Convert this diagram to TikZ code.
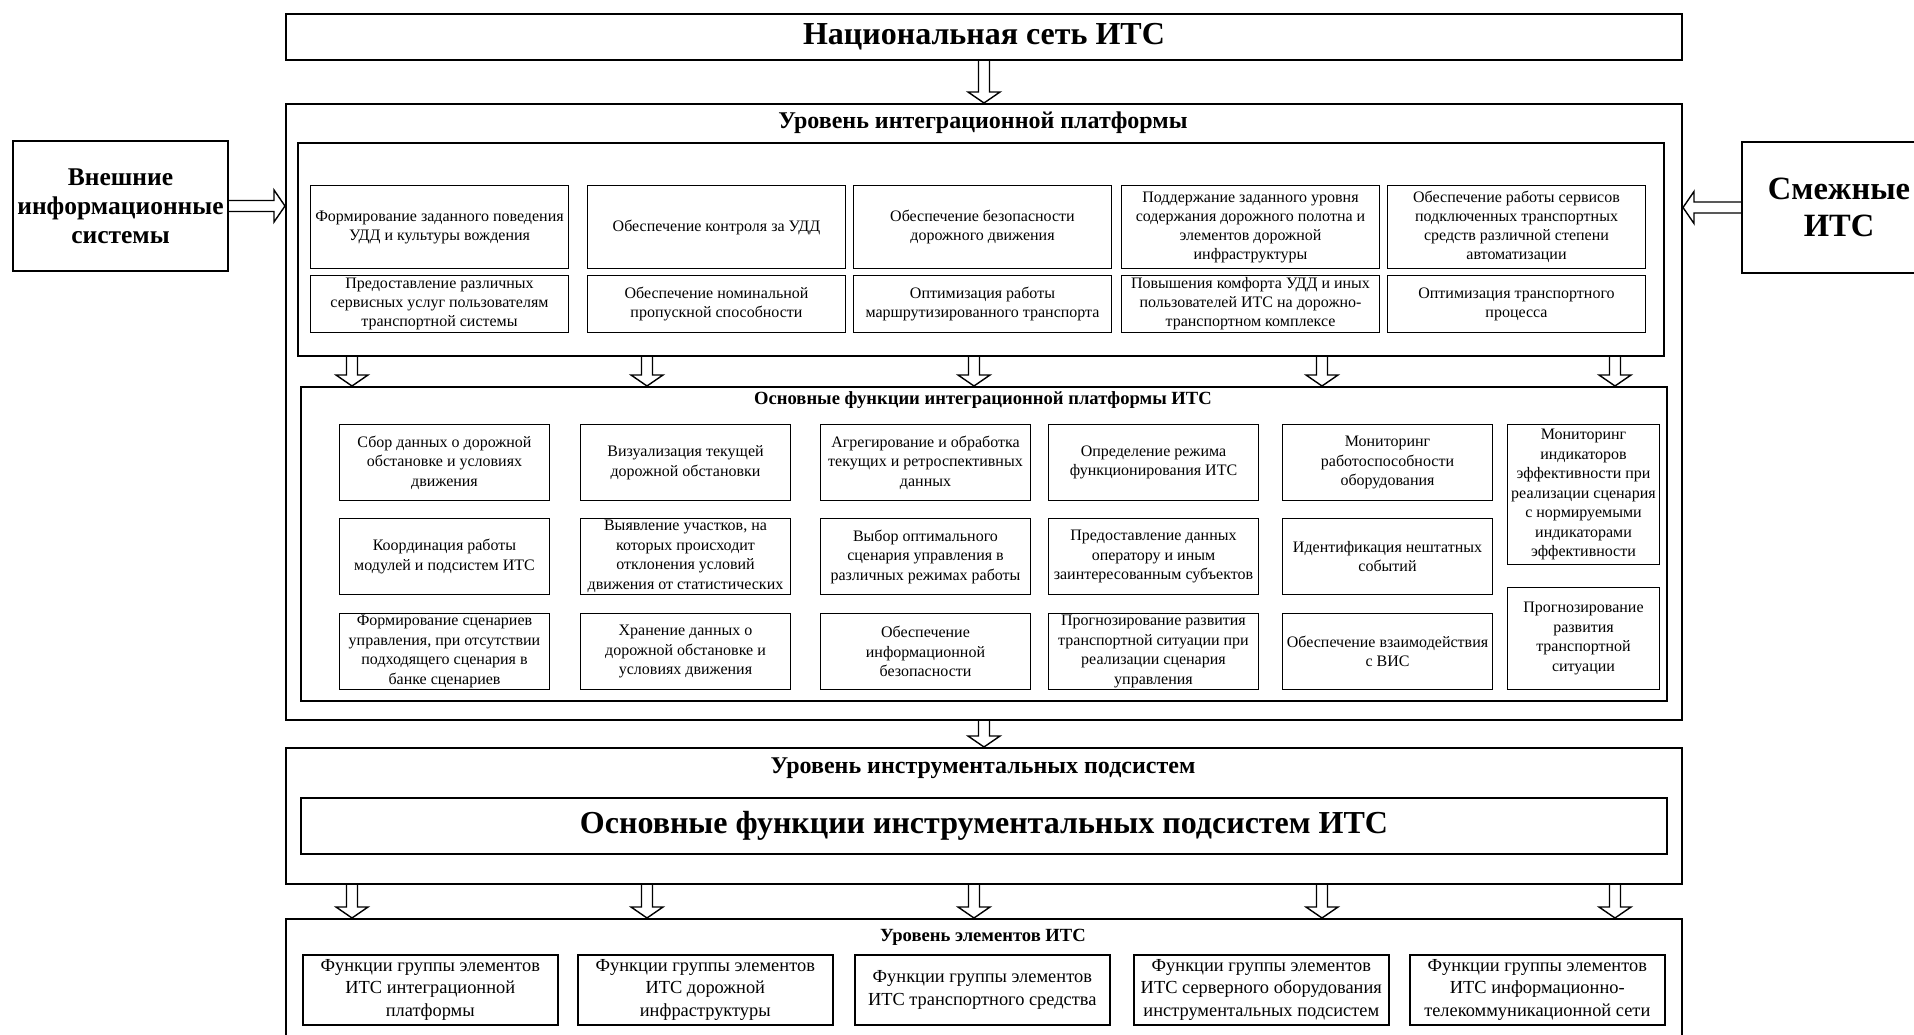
\documentclass[tikz,border=0pt]{standalone}
\usepackage{fontspec}
\setmainfont{Liberation Serif}
\usetikzlibrary{calc}

\begin{document}
\begin{tikzpicture}[
  x=1pt, y=-1pt, line join=miter,
  lvl/.style={draw,line width=2pt,anchor=north west,inner sep=0pt},
  ttl/.style={font=\bfseries\fontsize{24}{28}\selectfont},
  sub/.style={font=\bfseries\fontsize{18.6}{22}\selectfont},
  goal/.style={draw,line width=1pt,anchor=north west,align=center,inner sep=1pt,
               minimum width=258pt,font=\fontsize{16}{19}\selectfont},
  func/.style={draw,line width=1pt,anchor=north west,align=center,inner sep=1pt,
               minimum width=210pt,minimum height=76pt,font=\fontsize{16}{19.5}\selectfont},
  elem/.style={draw,line width=1.6pt,anchor=north west,align=center,inner sep=1pt,
               minimum width=255pt,minimum height=70pt,font=\fontsize{18.4}{22.5}\selectfont},
  side/.style={draw,line width=2pt,anchor=north west,align=center,inner sep=0pt},
  harrow/.style={draw,line width=1.4pt,
    to path={($(\tikztostart)!5.5pt!90:(\tikztotarget)$)
      -- ($(\tikztotarget)!11pt!(\tikztostart)!5.5pt!90:(\tikztotarget)$)
      -- ($(\tikztotarget)!11pt!(\tikztostart)!16pt!90:(\tikztotarget)$)
      -- (\tikztotarget)
      -- ($(\tikztotarget)!11pt!(\tikztostart)!16pt!-90:(\tikztotarget)$)
      -- ($(\tikztotarget)!11pt!(\tikztostart)!5.5pt!-90:(\tikztotarget)$)
      -- ($(\tikztostart)!5.5pt!-90:(\tikztotarget)$)}}]

\path[use as bounding box,fill=white] (0,0) rectangle (1914,1035);

% levels
\node[lvl,minimum width=1396pt,minimum height=46pt,font=\bfseries\fontsize{32}{38}\selectfont]
  (nat) at (285,13) {Национальная сеть ИТС};
\node[lvl,minimum width=1396pt,minimum height=616pt] (plat) at (285,103) {};
\node[lvl,minimum width=1366pt,minimum height=213pt] (goals) at (297,142) {};
\node[lvl,minimum width=1366pt,minimum height=314pt] (funcs) at (300,386) {};
\node[lvl,minimum width=1396pt,minimum height=136pt] (instr) at (285,747) {};
\node[lvl,minimum width=1366pt,minimum height=56pt,font=\bfseries\fontsize{32}{38}\selectfont]
  (instrF) at (300,797) {Основные функции инструментальных подсистем ИТС};
\node[lvl,minimum width=1396pt,minimum height=130pt] (elem) at (285,918) {};

\node[ttl] (platT) at (983,123) {Уровень интеграционной платформы};
\node[sub] (funcsT) at (983,400) {Основные функции интеграционной платформы ИТС};
\node[ttl] (instrT) at (983,768) {Уровень инструментальных подсистем};
\node[sub] (elemT) at (983,937) {Уровень элементов ИТС};

% outside systems
\node[side,minimum width=215pt,minimum height=130pt,font=\bfseries\fontsize{25.5}{29}\selectfont]
  (ext) at (12,140) {Внешние\\информационные\\системы};
\node[side,minimum width=194pt,minimum height=131pt,font=\bfseries\fontsize{32.5}{37}\selectfont]
  (adj) at (1741,141) {Смежные\\ИТС};

% goals of the platform
\node[goal,minimum height=83pt] (g1) at (310,185) {Формирование заданного поведения\\УДД и культуры вождения};
\node[goal,minimum height=83pt] (g2) at (587,185) {Обеспечение контроля за УДД};
\node[goal,minimum height=83pt] (g3) at (853,185) {Обеспечение безопасности\\дорожного движения};
\node[goal,minimum height=83pt] (g4) at (1121,185) {Поддержание заданного уровня\\содержания дорожного полотна и\\элементов дорожной\\инфраструктуры};
\node[goal,minimum height=83pt] (g5) at (1387,185) {Обеспечение работы сервисов\\подключенных транспортных\\средств различной степени\\автоматизации};
\node[goal,minimum height=57pt] (g6) at (310,275) {Предоставление различных\\сервисных услуг пользователям\\транспортной системы};
\node[goal,minimum height=57pt] (g7) at (587,275) {Обеспечение номинальной\\пропускной способности};
\node[goal,minimum height=57pt] (g8) at (853,275) {Оптимизация работы\\маршрутизированного транспорта};
\node[goal,minimum height=57pt] (g9) at (1121,275) {Повышения комфорта УДД и иных\\пользователей ИТС на дорожно-\\транспортном комплексе};
\node[goal,minimum height=57pt] (g10) at (1387,275) {Оптимизация транспортного\\процесса};

% main functions
\node[func] (f11) at (339,424) {Сбор данных о дорожной\\обстановке и условиях\\движения};
\node[func] (f12) at (580,424) {Визуализация текущей\\дорожной обстановки};
\node[func] (f13) at (820,424) {Агрегирование и обработка\\текущих и ретроспективных\\данных};
\node[func] (f14) at (1048,424) {Определение режима\\функционирования ИТС};
\node[func] (f15) at (1282,424) {Мониторинг\\работоспособности\\оборудования};
\node[func,minimum width=152pt,minimum height=140pt] (f16) at (1507,424)
  {Мониторинг\\индикаторов\\эффективности при\\реализации сценария\\с нормируемыми\\индикаторами\\эффективности};
\node[func] (f21) at (339,518) {Координация работы\\модулей и подсистем ИТС};
\node[func] (f22) at (580,518) {Выявление участков, на\\которых происходит\\отклонения условий\\движения от статистических};
\node[func] (f23) at (820,518) {Выбор оптимального\\сценария управления в\\различных режимах работы};
\node[func] (f24) at (1048,518) {Предоставление данных\\оператору и иным\\заинтересованным субъектов};
\node[func] (f25) at (1282,518) {Идентификация нештатных\\событий};
\node[func] (f31) at (339,613) {Формирование сценариев\\управления, при отсутствии\\подходящего сценария в\\банке сценариев};
\node[func] (f32) at (580,613) {Хранение данных о\\дорожной обстановке и\\условиях движения};
\node[func] (f33) at (820,613) {Обеспечение\\информационной\\безопасности};
\node[func] (f34) at (1048,613) {Прогнозирование развития\\транспортной ситуации при\\реализации сценария\\управления};
\node[func] (f35) at (1282,613) {Обеспечение взаимодействия\\с ВИС};
\node[func,minimum width=152pt,minimum height=102pt] (f36) at (1507,587)
  {Прогнозирование\\развития\\транспортной\\ситуации};

% element groups
\node[elem] (e1) at (302,954) {Функции группы элементов\\ИТС интеграционной\\платформы};
\node[elem] (e2) at (577,954) {Функции группы элементов\\ИТС дорожной\\инфраструктуры};
\node[elem] (e3) at (854,954) {Функции группы элементов\\ИТС транспортного средства};
\node[elem] (e4) at (1133,954) {Функции группы элементов\\ИТС серверного оборудования\\инструментальных подсистем};
\node[elem] (e5) at (1409,954) {Функции группы элементов\\ИТС информационно-\\телекоммуникационной сети};

% hollow arrows
\draw[harrow] (nat.south) to (plat.north);
\draw[harrow] (ext.east) to (ext.east -| plat.west);
\draw[harrow] (adj.west) to (adj.west -| plat.east);
\draw[harrow] (plat.south) to (instr.north);
\foreach \ax in {352,647,974,1322,1615} {
  \draw[harrow] (\ax,0 |- goals.south) to (\ax,0 |- funcs.north);
  \draw[harrow] (\ax,0 |- instr.south) to (\ax,0 |- elem.north);
}
\end{tikzpicture}
\end{document}
